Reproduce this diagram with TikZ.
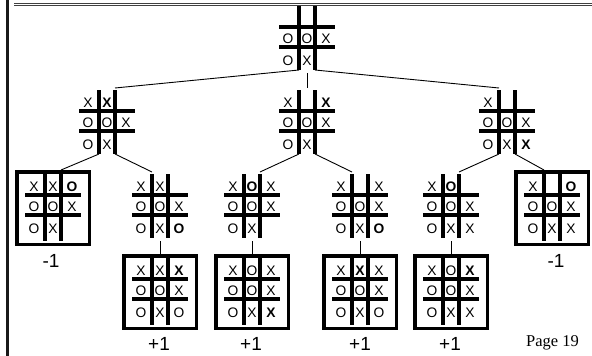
\documentclass[tikz,border=0pt]{standalone}
\usepackage{fontspec}
\setmainfont{Liberation Sans}
\newfontfamily\pagefont{Liberation Serif}
\tikzset{
  gl/.style={line width=3.4pt},
  boxline/.style={line width=3.5pt},
  conn/.style={line width=0.9pt},
  ttt/.style={anchor=base, inner sep=0pt, font=\fontsize{13.8}{13.8}\selectfont},
  score/.style={anchor=base, inner sep=0pt, font=\fontsize{19}{19}\selectfont},
}
\newcommand\cellx[3]{\node[ttt] (\curb-#1#2) at ({9+19*(#1-1)},{17+20*(#2-1)+(#2-1)*(#2-2)}) {#3};}
\newcommand\board[4]{%
  \begin{scope}[shift={(#2,#3)}]
    \def\curb{#1}%
    \draw[gl] (20,0) -- (20,64);
    \draw[gl] (36,0) -- (36,64);
    \draw[gl] (0,21) -- (56,21);
    \draw[gl] (0,41) -- (56,41);
    \coordinate (#1-tl) at (20,-2);
    \coordinate (#1-tr) at (36,-2);
    \coordinate (#1-tc) at (28,-2);
    \coordinate (#1-bl) at (20,64);
    \coordinate (#1-br) at (36,64);
    \coordinate (#1-bc) at (28,67);
    #4
  \end{scope}}
\newcommand\boxboard[4]{%
  \begin{scope}[shift={(#2,#3)}]
    \def\curb{#1}%
    \draw[boxline] (-8.25,-2.25) rectangle (64.25,70.25);
    \draw[gl] (20,-0.5) -- (20,67);
    \draw[gl] (36,-0.5) -- (36,67);
    \draw[gl] (0,21) -- (56,21);
    \draw[gl] (0,41) -- (56,41);
    \coordinate (#1-tl) at (20,-4);
    \coordinate (#1-tr) at (36,-4);
    \coordinate (#1-tc) at (28,-4);
    \coordinate (#1-bc) at (28,72);
    #4
  \end{scope}}
\begin{document}
\begin{tikzpicture}[x=1pt,y=-1pt]
\useasboundingbox (0,0) rectangle (592,356);
% frame
\draw[line width=2.2pt, black!90] (7.5,0) -- (7.5,356);
\draw[line width=1pt, black!75] (14,3) -- (592,3);
\draw[line width=1pt, black!75] (14,5.6) -- (592,5.6);
% root
\board{r}{279}{6}{\cellx12{O}\cellx22{O}\cellx32{X}\cellx13{O}\cellx23{X}}
% level 1
\board{la}{79}{90}{\cellx11{X}\cellx21{\textbf{X}}\cellx12{O}\cellx22{O}\cellx32{X}\cellx13{O}\cellx23{X}}
\board{lb}{279}{90}{\cellx11{X}\cellx31{\textbf{X}}\cellx12{O}\cellx22{O}\cellx32{X}\cellx13{O}\cellx23{X}}
\board{lc}{479}{90}{\cellx11{X}\cellx12{O}\cellx22{O}\cellx32{X}\cellx13{O}\cellx23{X}\cellx33{\textbf{X}}}
% level 2
\boxboard{ba}{25}{174}{\cellx11{X}\cellx21{X}\cellx31{\textbf{O}}\cellx12{O}\cellx22{O}\cellx32{X}\cellx13{O}\cellx23{X}}
\board{bb}{132}{174}{\cellx11{X}\cellx21{X}\cellx12{O}\cellx22{O}\cellx32{X}\cellx13{O}\cellx23{X}\cellx33{\textbf{O}}}
\board{bc}{224}{174}{\cellx11{X}\cellx21{\textbf{O}}\cellx31{X}\cellx12{O}\cellx22{O}\cellx32{X}\cellx13{O}\cellx23{X}}
\board{bd}{332}{174}{\cellx11{X}\cellx31{X}\cellx12{O}\cellx22{O}\cellx32{X}\cellx13{O}\cellx23{X}\cellx33{\textbf{O}}}
\board{be}{423}{174}{\cellx11{X}\cellx21{\textbf{O}}\cellx12{O}\cellx22{O}\cellx32{X}\cellx13{O}\cellx23{X}\cellx33{X}}
\boxboard{bf}{524}{174}{\cellx11{X}\cellx31{\textbf{O}}\cellx12{O}\cellx22{O}\cellx32{X}\cellx13{O}\cellx23{X}\cellx33{X}}
% level 3
\boxboard{ca}{132}{258}{\cellx11{X}\cellx21{X}\cellx31{\textbf{X}}\cellx12{O}\cellx22{O}\cellx32{X}\cellx13{O}\cellx23{X}\cellx33{O}}
\boxboard{cb}{224}{258}{\cellx11{X}\cellx21{O}\cellx31{X}\cellx12{O}\cellx22{O}\cellx32{X}\cellx13{O}\cellx23{X}\cellx33{\textbf{X}}}
\boxboard{cc}{332}{258}{\cellx11{X}\cellx21{\textbf{X}}\cellx31{X}\cellx12{O}\cellx22{O}\cellx32{X}\cellx13{O}\cellx23{X}\cellx33{O}}
\boxboard{cd}{423}{258}{\cellx11{X}\cellx21{O}\cellx31{\textbf{X}}\cellx12{O}\cellx22{O}\cellx32{X}\cellx13{O}\cellx23{X}\cellx33{X}}
% connectors
\draw[conn] (r-bl) -- (la-tr);
\draw[conn] (r-bc) -- (lb-tc);
\draw[conn] (r-br) -- (lc-tl);
\draw[conn] (la-bl) -- (ba-tr);
\draw[conn] (la-br) -- (bb-tl);
\draw[conn] (lb-bl) -- (bc-tr);
\draw[conn] (lb-br) -- (bd-tl);
\draw[conn] (lc-bl) -- (be-tr);
\draw[conn] (lc-br) -- (bf-tl);
\draw[conn] (bb-bc) -- (ca-tc);
\draw[conn] (bc-bc) -- (cb-tc);
\draw[conn] (bd-bc) -- (cc-tc);
\draw[conn] (be-bc) -- (cd-tc);
% scores
\node[score] (sa) at (51,267) {-1};
\node[score] (sf) at (556,267) {-1};
\node[score] (sca) at (159,350) {+1};
\node[score] (scb) at (251,350) {+1};
\node[score] (scc) at (360,350) {+1};
\node[score] (scd) at (450,350) {+1};
\node[anchor=base west, inner sep=0pt, font=\pagefont\fontsize{16.5}{16.5}\selectfont] (pg) at (526,346) {Page 19};
\end{tikzpicture}
\end{document}
